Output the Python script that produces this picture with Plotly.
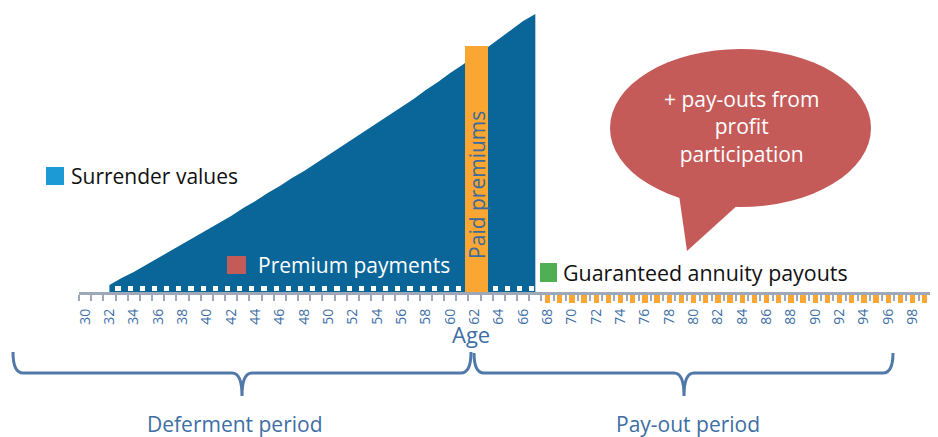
import plotly.graph_objects as go

# ---------------- data ----------------
axis_ages = list(range(30, 102))
label_ages = list(range(30, 101, 2))
label_text = [str(a) for a in label_ages]

surrender_ages = list(range(32, 68))
surrender_values = [8, 15, 21, 28, 35, 42, 49, 56, 63, 70,
                    77, 85, 92, 100, 107, 115, 122, 130, 138, 146,
                    154, 162, 170, 178, 186, 194, 203, 211, 220, 228,
                    237, 245, 254, 263, 272, 279]

premium_gap_ages = list(range(32, 67))
premium_gap_low = 2.3
premium_gap_high = 7.0

paid_premium_age = [62.2]
paid_premium_value = [247]

payout_ages = list(range(68, 101))
payout_values = [-9.5, -9.5, -9.5, -9.5, -9.5, -9.5, -9.5, -9.5, -9.5, -9.5, -9.5,
                 -9.5, -9.5, -9.5, -9.5, -9.5, -9.5, -9.5, -9.5, -9.5, -9.5, -9.5,
                 -9.5, -9.5, -9.5, -9.5, -9.5, -9.5, -9.5, -9.5, -9.5, -9.5, -9.5]

# ---------------- styles ----------------
FONT = "'Open Sans', 'Noto Sans', sans-serif"
BLUE = "#0a6699"
ORANGE = "#f9a633"
RED = "#c55b59"
GREEN = "#50ae53"
LIGHTBLUE = "#1b9ad6"
TXTBLUE = "#3e6ea4"
BRACE = "#5078a8"
AXISGRAY = "#9ea8b8"

# page offset of the figure (default body margin of the html page)
OFF = 8
W_FIG, H_FIG = 938 - OFF, 437 - OFF
# plot area in page pixels
PL, PT, PR, PB = 79, OFF, 938, 303
W, H = PR - PL, PB - PT
XR = [29.5, 100.09]
YR = [-10, 285]


def px(x):
    return (x - PL) / W


def py(y):
    return (PB - y) / H


fig = go.Figure()

fig.add_trace(go.Scatter(
    x=surrender_ages, y=surrender_values, mode="lines", fill="tozeroy",
    line=dict(width=0, color=BLUE), fillcolor=BLUE, hoverinfo="skip",
    xaxis="x", yaxis="y"))

fig.add_trace(go.Bar(
    x=[a + 0.7 for a in premium_gap_ages],
    y=[premium_gap_high - premium_gap_low] * len(premium_gap_ages),
    base=premium_gap_low, width=0.42,
    marker=dict(color="white", line=dict(width=0)),
    xaxis="x2", yaxis="y2"))

fig.add_trace(go.Bar(
    x=paid_premium_age, y=paid_premium_value, width=1.9,
    marker=dict(color=ORANGE, line=dict(width=0)),
    xaxis="x2", yaxis="y2"))

fig.add_trace(go.Bar(
    x=payout_ages, y=payout_values, width=0.44,
    marker=dict(color=ORANGE, line=dict(width=0)),
    xaxis="x2", yaxis="y2"))

shapes = []
# legend squares
for (x0, x1, y0, y1, c) in [(46, 64, 167, 185, LIGHTBLUE),
                            (227, 246, 256, 274, RED),
                            (540, 557, 263, 282, GREEN)]:
    shapes.append(dict(type="rect", xref="paper", yref="paper",
                       x0=px(x0), x1=px(x1), y0=py(y1), y1=py(y0),
                       fillcolor=c, line=dict(width=0), layer="above"))

# speech bubble
shapes.append(dict(type="circle", xref="paper", yref="paper",
                   x0=px(610), x1=px(871), y0=py(207), y1=py(49),
                   fillcolor=RED, line=dict(width=0), layer="above"))
shapes.append(dict(type="path", xref="paper", yref="paper",
                   path=f"M {px(679)} {py(195)} L {px(687)} {py(251)} L {px(740)} {py(203)} Z",
                   fillcolor=RED, line=dict(width=0), layer="above"))


def brace(xl, xm, xr, ytop, ybar, ytip):
    return (f"M {px(xl)} {py(ytop)} Q {px(xl)} {py(ybar)} {px(xl + 10)} {py(ybar)} "
            f"L {px(xm - 10)} {py(ybar)} Q {px(xm)} {py(ybar)} {px(xm)} {py(ytip)} "
            f"Q {px(xm)} {py(ybar)} {px(xm + 10)} {py(ybar)} "
            f"L {px(xr - 10)} {py(ybar)} Q {px(xr)} {py(ybar)} {px(xr)} {py(ytop)}")


shapes.append(dict(type="path", xref="paper", yref="paper",
                   path=brace(13, 242, 471, 352, 373, 396),
                   line=dict(color=BRACE, width=3)))
shapes.append(dict(type="path", xref="paper", yref="paper",
                   path=brace(474, 684, 893, 353, 373, 396),
                   line=dict(color=BRACE, width=3)))

annotations = [
    dict(text="Paid premiums", x=paid_premium_age[0], y=108, xref="x", yref="y",
         textangle=-90, showarrow=False, font=dict(size=21, color="#3c6a9c", family=FONT)),
    dict(text="Surrender values", x=px(69), y=py(176), xref="paper", yref="paper",
         xanchor="left", yanchor="middle", showarrow=False,
         font=dict(size=21, color="#111111", family=FONT)),
    dict(text="Premium payments", x=px(256), y=py(265), xref="paper", yref="paper",
         xanchor="left", yanchor="middle", showarrow=False,
         font=dict(size=21, color="white", family=FONT)),
    dict(text="Guaranteed annuity payouts", x=px(561), y=py(272), xref="paper", yref="paper",
         xanchor="left", yanchor="middle", showarrow=False,
         font=dict(size=21.4, color="#111111", family=FONT)),
    dict(text="+ pay-outs from<br>profit<br>participation", x=px(741), y=py(127),
         xref="paper", yref="paper", xanchor="center", yanchor="middle", showarrow=False,
         font=dict(size=21, color="white", family=FONT)),
    dict(text="Age", x=px(471), y=py(334), xref="paper", yref="paper",
         xanchor="center", yanchor="middle", showarrow=False,
         font=dict(size=22, color=TXTBLUE, family=FONT)),
    dict(text="Deferment period", x=px(235), y=py(424), xref="paper", yref="paper",
         xanchor="center", yanchor="middle", showarrow=False,
         font=dict(size=21, color=TXTBLUE, family=FONT)),
    dict(text="Pay-out period", x=px(688), y=py(424), xref="paper", yref="paper",
         xanchor="center", yanchor="middle", showarrow=False,
         font=dict(size=21, color=TXTBLUE, family=FONT)),
]

fig.update_layout(
    width=W_FIG, height=H_FIG,
    margin=dict(l=PL - OFF, r=938 - PR, t=PT - OFF, b=437 - PB, pad=0),
    paper_bgcolor="white", plot_bgcolor="white",
    showlegend=False, barmode="overlay", bargap=0,
    font=dict(family=FONT),
    xaxis=dict(range=XR, domain=[0, 1], anchor="y", tickmode="array",
               tickvals=label_ages, ticktext=label_text, tickangle=-90,
               ticks="", showline=False, showgrid=False, zeroline=False,
               tickfont=dict(size=14, color=TXTBLUE, family=FONT),
               ticklabelstandoff=2, fixedrange=True),
    yaxis=dict(range=YR, visible=False, fixedrange=True),
    xaxis2=dict(range=XR, overlaying="x", anchor="free", position=10 / H,
                tickmode="array", tickvals=[a - 0.5 for a in axis_ages],
                showticklabels=False, ticks="outside", ticklen=6, tickwidth=1.5,
                tickcolor=AXISGRAY, showline=True, linecolor=AXISGRAY, linewidth=2.5,
                showgrid=False, zeroline=False, fixedrange=True),
    yaxis2=dict(range=YR, overlaying="y", visible=False, anchor="x", fixedrange=True),
    shapes=shapes, annotations=annotations,
)

fig.write_html("out.html")
